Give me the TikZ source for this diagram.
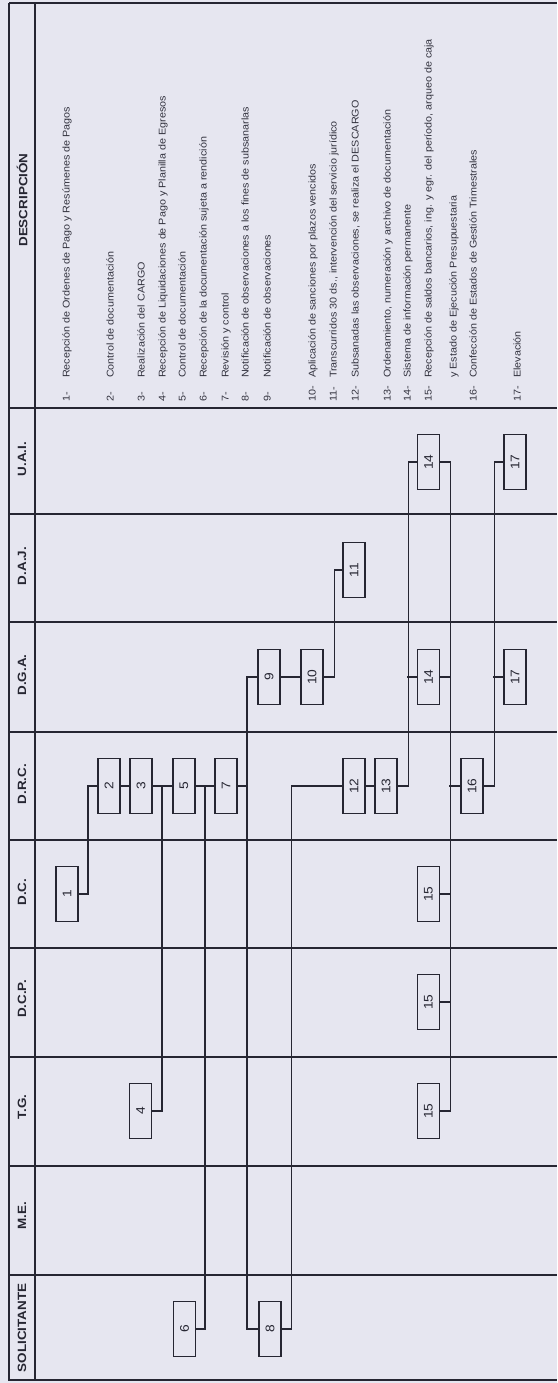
\documentclass[tikz,border=0pt]{standalone}
\usepackage{fontspec}
\setmainfont{Liberation Sans}
\newfontfamily\descfont{Liberation Sans}[FakeStretch=1.1]
\newfontfamily\headfont{Liberation Sans}[FakeStretch=1.12]
\definecolor{bg}{RGB}{230,230,240}
\definecolor{ink}{RGB}{38,38,50}
\definecolor{txt}{RGB}{50,50,62}
\begin{document}
\begin{tikzpicture}[x=1pt,y=-1pt,
  tbl/.style={draw=ink,line width=1.5pt},
  conn/.style={draw=ink,line width=1.3pt},
  stepbox/.style={draw=ink,line width=1.4pt,minimum width=22pt,minimum height=55pt,inner sep=0pt,
    font=\descfont\fontsize{12.5}{12.5}\selectfont,text=ink},
  lane/.style={rotate=90,font=\headfont\bfseries\fontsize{12}{12}\selectfont,text=ink,inner sep=0pt},
  dnum/.style={rotate=90,anchor=base west,font=\descfont\fontsize{9.8}{10}\selectfont,text=txt,inner sep=0pt},
]
\fill[bg] (0,0) rectangle (557,1383);
\useasboundingbox (0,0) rectangle (557,1383);

% table
\draw[tbl] (9,3) -- (557,3);
\draw[tbl] (9,3) -- (9,1380) -- (557,1380);
\draw[tbl] (35,3) -- (35,1380);
\foreach \yy in {408,514,622,732,840,948,1057,1166,1275} \draw[tbl] (9,\yy) -- (557,\yy);

% lane labels
\node[lane] (hDesc) at (22,200) {DESCRIPCIÓN};
\node[lane] (hUAI) at (22,459) {U.A.I.};
\node[lane] (hDAJ) at (22,566) {D.A.J.};
\node[lane] (hDGA) at (22,675) {D.G.A.};
\node[lane] (hDRC) at (22,784) {D.R.C.};
\node[lane] (hDC) at (22,892) {D.C.};
\node[lane] (hDCP) at (22,999) {D.C.P.};
\node[lane] (hTG) at (22,1107) {T.G.};
\node[lane] (hME) at (22,1216) {M.E.};
\node[lane] (hSol) at (22,1328) {SOLICITANTE};

% description
\node[dnum] (n1) at (69.5,402) {1-};
\node[dnum] (d1) at (69.5,378) {Recepción de Ordenes de Pago y Resúmenes de Pagos};
\node[dnum] (n2) at (113.5,402) {2-};
\node[dnum] (d2) at (113.5,378) {Control de documentación};
\node[dnum] (n3) at (144.5,402) {3-};
\node[dnum] (d3) at (144.5,378) {Realización del CARGO};
\node[dnum] (n4) at (165.5,402) {4-};
\node[dnum] (d4) at (165.5,378) {Recepción de Liquidaciones de Pago y Planilla de Egresos};
\node[dnum] (n5) at (185.5,402) {5-};
\node[dnum] (d5) at (185.5,378) {Control de documentación};
\node[dnum] (n6) at (206.5,402) {6-};
\node[dnum] (d6) at (206.5,378) {Recepción de la documentación sujeta a rendición};
\node[dnum] (n7) at (228.5,402) {7-};
\node[dnum] (d7) at (228.5,378) {Revisión y control};
\node[dnum] (n8) at (248.5,402) {8-};
\node[dnum] (d8) at (248.5,378) {Notificación de observaciones a los fines de subsanarlas};
\node[dnum] (n9) at (270.5,402) {9-};
\node[dnum] (d9) at (270.5,378) {Notificación de observaciones};
\node[dnum] (n10) at (315.5,402) {10-};
\node[dnum] (d10) at (315.5,378) {Aplicación de sanciones por plazos vencidos};
\node[dnum] (n11) at (336.5,402) {11-};
\node[dnum] (d11) at (336.5,378) {Transcurridos 30 ds., intervención del servicio jurídico};
\node[dnum] (n12) at (358.5,402) {12-};
\node[dnum] (d12) at (358.5,378) {Subsanadas las observaciones, se realiza el DESCARGO};
\node[dnum] (n13) at (390.5,402) {13-};
\node[dnum] (d13) at (390.5,378) {Ordenamiento, numeración y archivo de documentación};
\node[dnum] (n14) at (410.5,402) {14-};
\node[dnum] (d14) at (410.5,378) {Sistema de información permanente};
\node[dnum] (n15) at (431.5,402) {15-};
\node[dnum] (d15) at (431.5,378) {Recepción de saldos bancarios, ing. y egr. del período, arqueo de caja};
\node[dnum] (d15b) at (456.5,378) {y Estado de Ejecución Presupuestaria};
\node[dnum] (n16) at (476.5,402) {16-};
\node[dnum] (d16) at (476.5,378) {Confección de Estados de Gestión Trimestrales};
\node[dnum] (n17) at (520.5,402) {17-};
\node[dnum] (d17) at (520.5,378) {Elevación};

% boxes
\node[stepbox] (b1) at (67,894) {\rotatebox{90}{1}};
\node[stepbox] (b2) at (109,786) {\rotatebox{90}{2}};
\node[stepbox] (b3) at (141,786) {\rotatebox{90}{3}};
\node[stepbox] (b4) at (140.5,1111) {\rotatebox{90}{4}};
\node[stepbox] (b5) at (184,786) {\rotatebox{90}{5}};
\node[stepbox] (b6) at (184.5,1329) {\rotatebox{90}{6}};
\node[stepbox] (b7) at (226,786) {\rotatebox{90}{7}};
\node[stepbox] (b8) at (270,1329) {\rotatebox{90}{8}};
\node[stepbox] (b9) at (269,677) {\rotatebox{90}{9}};
\node[stepbox] (b10) at (312,677) {\rotatebox{90}{10}};
\node[stepbox] (b11) at (354,570) {\rotatebox{90}{11}};
\node[stepbox] (b12) at (354,786) {\rotatebox{90}{12}};
\node[stepbox] (b13) at (386,786) {\rotatebox{90}{13}};
\node[stepbox] (b14a) at (428.5,462) {\rotatebox{90}{14}};
\node[stepbox] (b14b) at (428.5,677) {\rotatebox{90}{14}};
\node[stepbox] (b15a) at (428.5,894) {\rotatebox{90}{15}};
\node[stepbox] (b15b) at (428.5,1002) {\rotatebox{90}{15}};
\node[stepbox] (b15c) at (428.5,1111) {\rotatebox{90}{15}};
\node[stepbox] (b16) at (472,786) {\rotatebox{90}{16}};
\node[stepbox] (b17a) at (515,462) {\rotatebox{90}{17}};
\node[stepbox] (b17b) at (515,677) {\rotatebox{90}{17}};

% connectors
\coordinate (j1) at (88,786);
\coordinate (j2) at (162,786);
\coordinate (j3) at (205,786);
\coordinate (j4) at (247,786);
\draw[conn] (b1.east) -| (j1) -- (b2.west);
\draw[conn] (b2.east) -- (b3.west);
\draw[conn] (b3.east) -- (b5.west);
\draw[conn] (b4.east) -| (j2);
\draw[conn] (b5.east) -- (b7.west);
\draw[conn] (b6.east) -| (j3);
\draw[conn] (b7.east) -- (j4);
\draw[conn] (b9.west) -| (j4) |- (b8.west);
\draw[conn] (b9.east) -- (b10.west);
\draw[conn] (b10.east) -- ++(10.5,0) |- (b11.west);
\draw[conn] (b8.east) -- ++(9.5,0) |- (b12.west);
\draw[conn] (b12.east) -- (b13.west);
\draw[conn] (b13.east) -- ++(10.5,0) |- (b14a.west);
\draw[conn] (b14b.west) -- ++(-10,0);
\draw[conn] (b14a.east) -- ++(10.5,0) |- (b15c.east);
\draw[conn] (b14b.east) -- ++(10.5,0);
\draw[conn] (b15a.east) -- ++(10.5,0);
\draw[conn] (b15b.east) -- ++(10.5,0);
\draw[conn] (b16.west) -- ++(-11,0);
\draw[conn] (b16.east) -- ++(10.5,0) |- (b17a.west);
\draw[conn] (b17b.west) -- ++(-10.5,0);
\end{tikzpicture}
\end{document}
